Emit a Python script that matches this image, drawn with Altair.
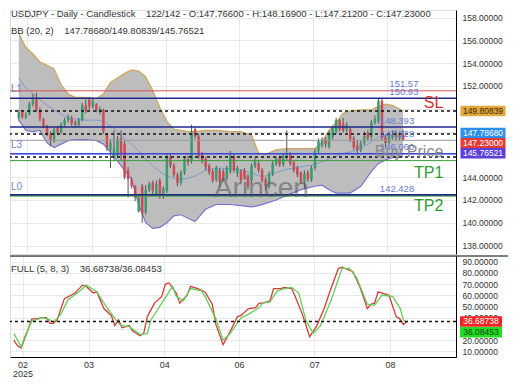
import altair as alt
import pandas as pd

FONT = "Liberation Sans"

# ---------------- candles (daily bars, left to right) ----------------
opens = [149.2, 149.7, 149.3, 149.5, 150.4, 150.9, 149.9, 149.1, 148.5, 147.8,
         147.3, 148.3, 147.9, 148.6, 149.0, 149.2, 148.8, 148.6, 149.0, 150.3,
         150.8, 150.2, 150.4, 149.7, 149.9, 147.8, 146.4, 145.7, 145.9, 147.4,
         146.9, 144.6, 143.8, 143.2, 141.0, 143.2, 140.9, 142.9, 143.5, 142.5,
         143.7, 142.4, 142.8, 145.8, 145.0, 144.2, 143.5, 144.4, 145.6, 145.4,
         148.2, 147.6, 146.0, 145.6, 145.0, 144.5, 143.8, 144.6, 144.5, 143.9,
         144.5, 145.8, 144.3, 144.5, 144.6, 144.1, 143.7, 145.0, 145.2, 144.6,
         143.8, 143.2, 144.3, 145.2, 145.7, 145.1, 145.9, 146.1, 145.3, 144.8,
         144.4, 143.6, 144.4, 143.8, 144.8, 146.3, 146.8, 147.3, 146.7, 147.5,
         148.0, 149.0, 148.7, 148.2, 148.2, 147.4, 146.8, 146.4, 147.0, 147.9,
         147.5, 148.8, 148.9, 150.7, 147.5, 147.0, 147.4, 147.8, 147.4, 147.766]
highs = [149.9, 149.9, 149.7, 150.6, 151.3, 151.4, 150.1, 149.2, 148.6, 148.0,
         148.4, 148.5, 148.8, 149.2, 149.5, 149.4, 149.0, 149.2, 150.5, 150.8,
         151.0, 150.9, 150.5, 150.2, 150.0, 147.9, 147.3, 148.1, 147.6, 148.1,
         147.2, 144.9, 144.0, 143.3, 142.4, 143.4, 143.3, 143.6, 143.7, 143.7,
         143.9, 143.2, 146.0, 146.1, 145.2, 144.4, 144.6, 145.8, 145.9, 148.6,
         148.4, 147.8, 146.2, 145.8, 145.2, 144.7, 145.0, 144.8, 144.7, 145.0,
         146.3, 146.0, 145.0, 144.7, 144.8, 144.3, 145.2, 145.7, 145.4, 144.8,
         144.0, 144.5, 145.4, 145.8, 145.9, 146.1, 148.1, 146.2, 145.5, 145.0,
         144.5, 144.6, 144.6, 145.0, 146.5, 147.4, 147.5, 147.5, 148.1, 148.5,
         149.2, 149.1, 149.2, 148.8, 148.4, 147.6, 147.2, 147.2, 148.0, 148.1,
         149.0, 149.4, 150.9, 150.9, 147.7, 147.9, 148.1, 148.1, 148.0, 148.169]
lows = [149.0, 149.1, 149.1, 149.4, 150.2, 149.7, 148.9, 148.3, 147.6, 146.7,
        147.0, 147.7, 147.8, 148.4, 148.8, 148.5, 148.3, 148.4, 148.9, 149.6,
        149.9, 150.0, 149.7, 149.5, 147.8, 146.3, 144.8, 145.4, 145.7, 145.5,
        143.8, 142.2, 143.0, 141.9, 140.9, 140.0, 140.7, 142.7, 142.5, 142.3,
        142.1, 142.1, 142.6, 144.8, 144.0, 143.2, 143.3, 144.2, 145.0, 145.2,
        147.4, 145.6, 145.2, 144.6, 144.2, 143.5, 143.6, 143.1, 143.6, 143.7,
        144.3, 144.4, 144.0, 143.5, 143.8, 142.9, 143.5, 144.8, 144.4, 143.5,
        142.9, 143.0, 144.1, 145.0, 144.9, 144.9, 145.4, 145.0, 144.4, 144.0,
        143.4, 143.0, 143.6, 143.6, 144.6, 146.0, 146.6, 146.6, 146.5, 147.3,
        147.8, 148.0, 147.9, 147.9, 147.1, 146.4, 146.1, 146.2, 146.8, 147.2,
        147.3, 148.6, 148.7, 147.2, 146.6, 146.9, 147.3, 147.2, 147.2, 147.212]
closes = [149.7, 149.3, 149.5, 150.4, 150.8, 149.9, 149.1, 148.5, 147.8, 147.3,
          148.2, 147.9, 148.6, 149.0, 149.3, 148.7, 148.6, 149.0, 150.3, 149.8,
          150.2, 150.7, 149.9, 150.0, 148.0, 146.6, 147.0, 146.5, 147.3, 146.0,
          144.0, 143.8, 143.2, 142.2, 142.2, 140.8, 142.9, 143.4, 142.8, 143.4,
          142.4, 143.0, 145.8, 145.0, 144.2, 143.5, 144.4, 145.6, 145.3, 148.0,
          147.6, 145.8, 145.5, 144.9, 144.4, 143.7, 144.8, 143.6, 143.8, 144.8,
          145.9, 144.6, 144.8, 143.7, 144.0, 143.2, 145.0, 145.4, 144.6, 143.7,
          143.2, 144.3, 145.2, 145.6, 145.1, 145.9, 146.1, 145.2, 144.6, 144.2,
          143.6, 144.3, 143.8, 144.8, 146.3, 147.2, 147.3, 146.9, 147.9, 148.3,
          149.0, 148.2, 148.1, 148.6, 147.3, 146.6, 146.4, 147.0, 147.6, 147.4,
          148.8, 149.1, 150.7, 147.4, 147.0, 147.7, 147.7, 147.5, 147.8, 147.23]

# ---------------- Bollinger band (20, 2), read at these bars ----------------
band_idx = [0, 2, 4, 6, 8, 10, 12, 14, 16, 19, 22, 24, 26, 28, 30, 32, 34, 36, 38, 40,
            42, 44, 46, 48, 50, 53, 56, 60, 63, 66, 68, 70, 73, 76, 80, 84, 86, 88, 90, 92,
            94, 97, 100, 102, 104, 106, 109]
bb_upper = [156.6, 155.4, 154.8, 154.1, 153.8, 153.5, 152.1, 151.3, 151.0, 151.0,
            150.9, 151.3, 152.3, 152.7, 153.1, 153.4, 153.3, 152.8, 151.6, 150.1,
            148.9, 148.2, 148.1, 148.0, 148.0, 148.1, 148.1, 148.0, 148.0, 147.7,
            146.1, 146.0, 146.4, 146.5, 146.5, 146.5, 147.1, 148.1, 148.8, 149.6,
            149.8, 149.9, 149.9, 150.2, 150.4, 150.3, 149.80839]
bb_mid = [152.7, 151.8, 151.3, 150.8, 150.3, 149.9, 149.5, 149.2, 149.1, 149.0,
          149.0, 148.9, 148.5, 148.0, 147.4, 146.9, 146.3, 145.6, 145.0, 144.5,
          144.1, 143.9, 143.8, 143.9, 144.1, 144.6, 144.8, 144.75, 144.6, 144.4,
          144.1, 144.1, 144.4, 144.7, 144.9, 145.1, 145.35, 145.6, 145.8, 146.1,
          146.2, 146.5, 147.1, 147.5, 147.7, 147.8, 147.7868]
bb_lower = [149.0, 148.1, 148.0, 148.1, 147.0, 146.6, 146.9, 147.2, 147.3, 147.3,
            147.2, 146.9, 146.2, 145.4, 144.6, 143.8, 141.6, 140.0, 139.5, 139.6,
            140.0, 140.6, 140.7, 140.4, 140.1, 141.2, 141.6, 141.6, 141.5, 141.4,
            141.5, 141.7, 142.0, 142.4, 142.9, 143.2, 143.3, 142.9, 142.6, 142.6,
            142.6, 143.2, 144.5, 145.2, 145.5, 145.7, 145.76521]

# ---------------- Full stochastic (5, 8, 3) ----------------
k_idx = [0, 1, 2, 4, 5, 6, 8, 9, 10, 11, 12, 14, 17, 19, 20, 22, 23, 25, 27, 28,
         29, 30, 32, 33, 35, 36, 37, 39, 41, 42, 43, 45, 46, 48, 49, 51, 53, 55, 56, 58,
         60, 62, 63, 65, 67, 68, 69, 71, 72, 74, 75, 77, 78, 80, 82, 84, 86, 88, 90, 91,
         94, 96, 98, 99, 100, 101, 103, 104, 106, 107, 108, 109]
k_val = [20, 15, 13, 30, 39, 39, 40, 40, 35, 35, 38, 57, 62, 69, 68, 62, 63, 48, 42, 33,
         38, 31, 33, 28, 24, 26, 41, 53, 59, 70, 71, 62, 53, 60, 68, 66, 63, 52, 34, 16,
         28, 41, 42, 48, 49, 53, 53, 55, 66, 66, 67, 66, 59, 43, 23, 33, 48, 67, 84, 85,
         81, 67, 48, 52, 53, 63, 61, 60, 41, 39, 34, 36.68738]
d_idx = [0, 1, 2, 3, 5, 8, 10, 11, 13, 15, 18, 20, 21, 23, 26, 29, 30, 32, 35, 37,
         38, 41, 44, 45, 47, 49, 52, 53, 56, 58, 60, 63, 65, 68, 69, 71, 73, 75, 77, 79,
         81, 83, 85, 88, 91, 93, 95, 98, 100, 102, 105, 107, 108, 109]
d_val = [26, 20, 14, 23, 37, 40, 38, 36, 43, 56, 63, 69, 67, 63, 48, 35, 33, 32, 25, 26,
         38, 53, 68, 59, 55, 66, 64, 59, 39, 20, 26, 40, 43, 49, 53, 54, 64, 66, 67, 62,
         37, 26, 33, 56, 84, 84, 76, 52, 51, 60, 59, 49, 38, 36.08453]

# ---------------- axes ----------------
tick_idx = [2.4, 20.7, 41.7, 62.4, 83.3, 104.3]
tick_lab = ["02", "03", "04", "06", "07", "08"]
year_lab = "2025"
price_ticks = [138, 140, 142, 144, 146, 148, 150, 152, 154, 156, 158]
price_hidden = [146, 148, 150]
stoch_ticks = [10, 20, 30, 40, 50, 60, 70, 80, 90]
stoch_hidden = [30]

# ---------------- horizontal levels ----------------
level_price = [151.57, 150.93, 149.80839, 148.393, 147.7868, 147.23, 146.06, 145.76521, 145.45, 142.428, 142.34]
level_color = ["#d9534f", "#1f2a8c", "#111111", "#1f2a8c", "#111111", "#9a9a9a", "#3a46d6", "#111111", "#3c9a3c", "#1f2a8c", "#3c9a3c"]
level_dash = [[1, 0], [1, 0], [3, 3], [1, 0], [3, 3], [1, 0], [1, 0], [3, 3], [1, 0], [1, 0], [1, 0]]
level_width = [1, 1.5, 1.5, 1.5, 1.5, 1, 1.5, 1.5, 1, 2, 1]

lvl_text = ["151.57", "150.93", "148.393", "147.228", "146.060", "142.428"]
lvl_text_price = [151.57, 150.93, 148.393, 147.23, 146.06, 142.428]
lvl_text_idx = [105.1, 105.1, 102.4, 102.4, 102.4, 102.4]

big_text = ["SL", "TP1", "TP2", "Buy Price"]
big_price = [150.93, 145.45, 142.34, 146.06]
big_idx = [120.4, 120.4, 120.4, 120.4]
big_color = ["#d63030", "#2f9a2f", "#2f9a2f", "#8a8a8a"]
big_dy = [4.5, 12, 10, -1.5]

l_text = ["L1", "L3", "L0"]
l_price = [151.57, 146.06, 142.428]
l_dy = [-2, -8.5, -8.5]

wm_text = "Arincen"
wm_idx = 68.8
wm_price = 142.94

box_vals = [149.80839, 147.78680, 147.23000, 145.76521]
box_fill = ["#e2a83c", "#2b8ff0", "#e53935", "#5b3fdc"]
box_txt = ["#3a2a00", "#ffffff", "#ffffff", "#ffffff"]
box_dy = [0, -1, 2.8, -3.7]
sbox_vals = [36.68738, 36.08453]
sbox_fill = ["#f02424", "#22dd22"]
sbox_txt = ["#ffffff", "#124412"]
sbox_dy = [0, 10.2]

NB = "\u00a0"
header1 = "USDJPY - Daily - Candlestick" + NB * 3 + " 122/142 - O:147.76600 - H:148.16900 - L:147.21200 - C:147.23000"
header2 = "BB (20, 2)" + NB * 3 + " 147.78680/149.80839/145.76521"
header3 = "FULL (5, 8, 3)" + NB * 3 + " 36.68738/36.08453"

# ---------------- layout ----------------
W, H1, H2 = 446, 244, 101
XD = [-1.075, 122.58]
PD = [137.26, 158.66]
SD = [5, 95]
GRID = "#e9e9e9"
BOX_X = W + 27
LBL = 8.5

x_scale = alt.Scale(domain=XD, nice=False, zero=False)
p_scale = alt.Scale(domain=PD, nice=False, zero=False)
s_scale = alt.Scale(domain=SD, nice=False, zero=False)

candles = pd.DataFrame({"i": list(range(len(opens))), "o": opens, "h": highs, "l": lows, "c": closes})
candles["dir"] = ["up" if c >= o else "down" for o, c in zip(opens, closes)]
bands = pd.DataFrame({"i": band_idx, "up": bb_upper, "mid": bb_mid, "lo": bb_lower})
kdf = pd.DataFrame({"i": k_idx, "v": k_val})
ddf = pd.DataFrame({"i": d_idx, "v": d_val})

hidden_js = "[" + ",".join(str(v) for v in price_hidden) + "]"
y_top_axis = alt.Axis(orient="right", values=price_ticks,
                      labelExpr=f"indexof({hidden_js}, datum.value) >= 0 ? '' : format(datum.value, '.5f')",
                      ticks=False, domain=True, domainColor="#000000", domainWidth=1,
                      grid=True, gridColor=GRID, labelFontSize=LBL, labelColor="#333333",
                      labelPadding=6, labelFont=FONT, labelOverlap=False, labelFlush=False, title=None)
x_top_axis = alt.Axis(values=tick_idx, labels=False, ticks=False, domain=False,
                      grid=True, gridColor=GRID, title=None)

parts = []
for k, (v, lab) in enumerate(zip(tick_idx, tick_lab)):
    val = f"['{lab}', '{year_lab}']" if k == 0 else f"'{lab}'"
    parts.append(f"datum.value == {v} ? {val} : ")
x_label_expr = "".join(parts) + "''"
x_bot_axis = alt.Axis(values=tick_idx, labelExpr=x_label_expr, ticks=False, domain=True,
                      domainColor="#000000", domainWidth=1, grid=True, gridColor=GRID,
                      labelFontSize=LBL + 0.5, labelColor="#333333", labelPadding=3, labelLineHeight=9,
                      labelFont=FONT, labelAngle=0, labelOverlap=False, labelFlush=False, title=None)
shidden_js = "[" + ",".join(str(v) for v in stoch_hidden) + "]"
y_bot_axis = alt.Axis(orient="right", values=stoch_ticks,
                      labelExpr=f"indexof({shidden_js}, datum.value) >= 0 ? '' : format(datum.value, '.5f')",
                      ticks=False, domain=True,
                      domainColor="#000000", domainWidth=1, grid=True, gridColor=GRID,
                      labelFontSize=LBL, labelColor="#333333", labelPadding=6, labelFont=FONT,
                      labelOverlap=False, labelFlush=False, title=None)


def XT(f="i:Q"):
    return alt.X(f, scale=x_scale, axis=x_top_axis)


def XB(f="i:Q"):
    return alt.X(f, scale=x_scale, axis=x_bot_axis)


def YP(f):
    return alt.Y(f, scale=p_scale, axis=y_top_axis)


def YS(f):
    return alt.Y(f, scale=s_scale, axis=y_bot_axis)


top_layers = []
top_layers.append(alt.Chart(bands).mark_area(color="#bdbdbd").encode(x=XT(), y=YP("lo:Q"), y2="up:Q"))
top_layers.append(alt.Chart(bands).mark_line(color="#cda558", strokeWidth=1.2).encode(x=XT(), y=YP("up:Q")))
top_layers.append(alt.Chart(bands).mark_line(color="#7773d4", strokeWidth=1.2).encode(x=XT(), y=YP("lo:Q")))
top_layers.append(alt.Chart(bands).mark_line(color="#7e9bd0", strokeWidth=1).encode(x=XT(), y=YP("mid:Q")))

top_layers.append(alt.Chart(candles).mark_rule(color="#555555", strokeWidth=1).encode(
    x=XT(), y=YP("l:Q"), y2="h:Q"))
top_layers.append(alt.Chart(candles).mark_bar(size=2.5).encode(
    x=XT(), y=YP("o:Q"), y2="c:Q",
    color=alt.Color("dir:N", scale=alt.Scale(domain=["up", "down"], range=["#3a9b6e", "#cf4a55"]), legend=None)))

for p, col, dash, w in zip(level_price, level_color, level_dash, level_width):
    top_layers.append(alt.Chart(pd.DataFrame({"p": [p]})).mark_rule(
        color=col, strokeDash=dash, strokeWidth=w).encode(y=YP("p:Q")))

lvl_df = pd.DataFrame({"t": lvl_text, "p": lvl_text_price, "i": lvl_text_idx})
top_layers.append(alt.Chart(lvl_df).mark_text(align="left", baseline="middle", dy=-6.5, fontSize=9.5,
                                               color="#6a7ad8", font=FONT).encode(
    x=XT(), y=YP("p:Q"), text="t:N"))

for t, p, dy in zip(l_text, l_price, l_dy):
    top_layers.append(alt.Chart(pd.DataFrame({"t": [t], "p": [p]})).mark_text(
        align="left", baseline="middle", dy=dy, fontSize=10, color="#7384c8", font=FONT).encode(
        x=alt.value(1), y=YP("p:Q"), text="t:N"))

for t, p, ix, col, dy in zip(big_text, big_price, big_idx, big_color, big_dy):
    top_layers.append(alt.Chart(pd.DataFrame({"t": [t], "p": [p], "i": [ix]})).mark_text(
        align="right", baseline="middle", dy=dy, fontSize=16, color=col, font=FONT).encode(
        x=XT(), y=YP("p:Q"), text="t:N"))

top_layers.append(alt.Chart(pd.DataFrame({"t": [wm_text], "p": [wm_price], "i": [wm_idx]})).mark_text(
    align="center", baseline="middle", fontSize=28, color="#555555", opacity=0.55, font=FONT).encode(
    x=XT(), y=YP("p:Q"), text="t:N"))

BOX_PATH = "M-1,-0.233H1V0.233H-1Z"
for v, fc, tc, dy in zip(box_vals, box_fill, box_txt, box_dy):
    d = pd.DataFrame({"v": [v], "t": [f"{v:.5f}"]})
    top_layers.append(alt.Chart(d).mark_point(shape=BOX_PATH, size=45 * 45, filled=True, fill=fc,
                                              opacity=1, strokeWidth=0, yOffset=dy).encode(
        x=alt.value(BOX_X), y=YP("v:Q")))
    top_layers.append(alt.Chart(d).mark_text(align="center", baseline="middle", dy=dy, fontSize=LBL,
                                             color=tc, font=FONT).encode(
        x=alt.value(BOX_X), y=YP("v:Q"), text="t:N"))

for txt, yy in [(header1, 4), (header2, 21)]:
    top_layers.append(alt.Chart(pd.DataFrame({"t": [txt]})).mark_text(
        align="left", baseline="middle", fontSize=9.5, color="#333333", font=FONT).encode(
        x=alt.value(1), y=alt.value(yy), text="t:N"))

top = alt.layer(*top_layers).properties(width=W, height=H1)

bot_layers = []
bot_layers.append(alt.Chart(kdf).mark_line(color="#d83a3a", strokeWidth=1.3).encode(x=XB(), y=YS("v:Q")))
bot_layers.append(alt.Chart(ddf).mark_line(color="#62cf5a", strokeWidth=1.3).encode(x=XB(), y=YS("v:Q")))
bot_layers.append(alt.Chart(pd.DataFrame({"v": [sbox_vals[0]]})).mark_rule(
    color="#111111", strokeDash=[3, 3], strokeWidth=1.5).encode(y=YS("v:Q")))

SBOX_PATH = "M-1,-0.25H1V0.25H-1Z"
for v, fc, tc, dy in zip(sbox_vals, sbox_fill, sbox_txt, sbox_dy):
    d = pd.DataFrame({"v": [v], "t": [f"{v:.5f}"]})
    bot_layers.append(alt.Chart(d).mark_point(shape=SBOX_PATH, size=42 * 42, filled=True, fill=fc,
                                              opacity=1, strokeWidth=0, yOffset=dy).encode(
        x=alt.value(BOX_X - 2), y=YS("v:Q")))
    bot_layers.append(alt.Chart(d).mark_text(align="center", baseline="middle", dy=dy, fontSize=LBL,
                                             color=tc, font=FONT).encode(
        x=alt.value(BOX_X - 2), y=YS("v:Q"), text="t:N"))

bot_layers.append(alt.Chart(pd.DataFrame({"t": [header3]})).mark_text(
    align="left", baseline="middle", fontSize=9.5, color="#333333", font=FONT).encode(
    x=alt.value(1), y=alt.value(13), text="t:N"))
bot_layers.append(alt.Chart(pd.DataFrame({"t": [0]})).mark_rule(color="#000000", strokeWidth=1).encode(
    x=alt.value(0), x2=alt.value(W + 52), y=alt.value(0)))

bottom = alt.layer(*bot_layers).properties(width=W, height=H2)

chart = alt.vconcat(top, bottom, spacing=0).properties(
    padding={"left": 0, "top": 0, "right": 0, "bottom": 0}
).configure_view(stroke=None).configure(font=FONT)

chart.save("out.html", embed_options={"renderer": "svg", "actions": False})
